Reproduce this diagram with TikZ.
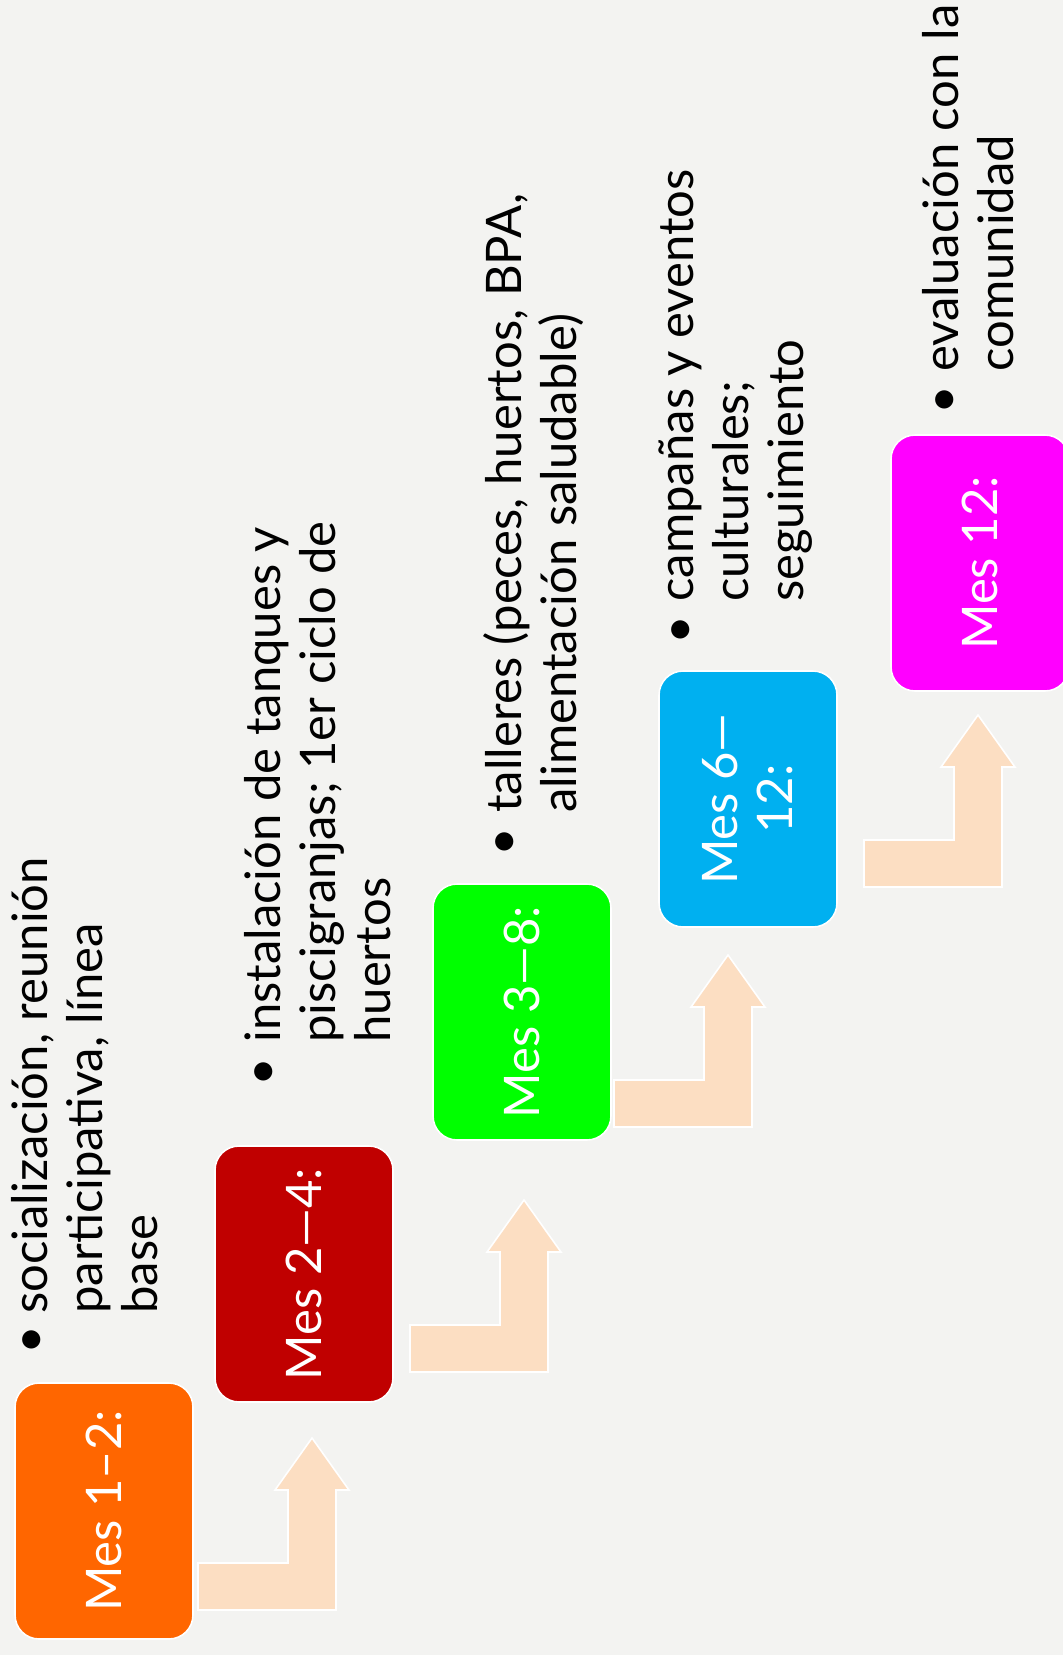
\documentclass[tikz,border=0pt]{standalone}
\usepackage{fontspec}
\setmainfont{Lato}
\usetikzlibrary{positioning}
\definecolor{fondo}{HTML}{F3F3F1}
\definecolor{naranja}{HTML}{FF6600}
\definecolor{rojo}{HTML}{C00000}
\definecolor{verde}{HTML}{00FF00}
\definecolor{celeste}{HTML}{00B0F0}
\definecolor{fucsia}{HTML}{FF00FF}
\definecolor{melocoton}{HTML}{FCDEC2}

\begin{document}
\begin{tikzpicture}[x=0.5pt, y=-0.5pt,
    fase/.style={rectangle, rotate=90, draw=white, line width=0.8pt, rounded corners=12pt, minimum width=128pt, minimum height=89pt, inner sep=0pt, text=white, align=center, font=\fontsize{24.5}{27.5}\selectfont},
    tareas/.style={rotate=90, anchor=north west, inner sep=0pt, align=left, font=\fontsize{24.5}{27.5}\selectfont},
    punto/.style={inner sep=0pt, font=\fontsize{24.5}{27.5}\selectfont},
    subida/.pic={\draw[fill=melocoton, draw=white, line width=0.8pt] (0,0) -- (0,-47) -- (90,-47) -- (90,-120) -- (77,-120) -- (114,-172) -- (151,-120) -- (138,-120) -- (138,0) -- cycle;}
]
    % Fondo
    \fill[fondo] (0,0) rectangle (1063,1655);
    \useasboundingbox (0,0) rectangle (1063,1655);

    % Flechas de paso
    \pic at (198,1610) {subida};
    \pic at (410,1372) {subida};
    \pic at (614,1127) {subida};
    \pic at (864,887) {subida};

    % Fases
    \node[fase, fill=naranja] (fase1) at (104,1511) {Mes 1--2:};
    \node[fase, fill=rojo] (fase2) at (304,1274) {Mes 2---4:};
    \node[fase, fill=verde] (fase3) at (522,1012) {Mes 3---8:};
    \node[fase, fill=celeste] (fase4) at (748,799) {Mes 6---\\12:};
    \node[fase, fill=fucsia] (fase5) at (980,563) {Mes 12:};

    % Actividades
    \node[punto] (punto1) at (32,1343) {\textbullet};
    \node[tareas] (tareas1) at (11,1314) {socialización, reunión\\participativa, línea\\base};
    \node[punto] (punto2) at (264,1075) {\textbullet};
    \node[tareas] (tareas2) at (244,1043) {instalación de tanques y\\piscigranjas; 1er ciclo de\\huertos};
    \node[punto] (punto3) at (505,845) {\textbullet};
    \node[tareas] (tareas3) at (483,813) {talleres (peces, huertos, BPA,\\alimentación saludable)};
    \node[punto] (punto4) at (681,633) {\textbullet};
    \node[tareas] (tareas4) at (658,602) {campañas y eventos\\culturales;\\seguimiento};
    \node[punto] (punto5) at (945,403) {\textbullet};
    \node[tareas] (tareas5) at (922,372) {evaluación con la\\comunidad};

\end{tikzpicture}
\end{document}
